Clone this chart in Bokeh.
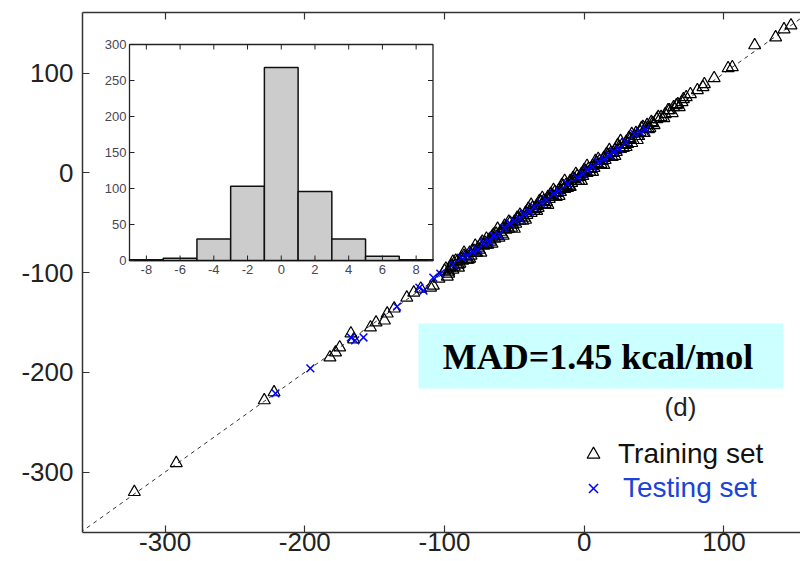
from bokeh.plotting import figure
from bokeh.models import (Range1d, LinearAxis, FixedTicker, Slope, Legend, LegendItem,
                          BoxAnnotation, Label)
from bokeh.core.properties import value
from bokeh.embed import file_html
from bokeh.resources import INLINE

# ---------------- data ----------------
train_x = [-322, -292, -229, -222, -182, -178, -175, -167, -165, -153,
           -149, -143, -141, -136, -127, -122, -117, -110, -108, -104,
           -100, -97,
           -95, -93, -91, -90, -88, -87, -85, -84, -82, -81,
           -79, -78, -76, -75, -74, -72, -71, -70, -68, -67,
           -66, -64, -63, -62, -60, -59, -58, -56, -55, -54,
           -53, -51, -50, -49, -47, -46, -45, -43, -42, -41,
           -39, -38, -37, -35, -34, -33, -31, -30, -29, -27,
           -26, -25, -23, -22, -21, -19, -18, -17, -15, -14,
           -13, -11, -10, -9, -7, -6, -5, -3, -2, -1,
           1, 2, 3, 5, 6, 7, 9, 10, 11, 13,
           14, 15, 17, 18, 19, 21, 22, 23, 25, 26,
           27, 29, 30, 31, 33, 35, 36, 38, 40, 42,
           44, 46,
           49, 52, 55, 58, 61, 64, 67, 70, 73, 76,
           81, 85, 86, 93, 103, 106, 122, 137, 143, 148]
train_y = [-320, -291, -228, -220, -185, -180, -175, -161, -167, -155,
           -150, -148, -141, -136, -125, -120, -116, -115, -113, -106,
           -98, -99,
           -93, -94, -89, -92, -86, -88, -84, -87, -80, -83,
           -78, -80, -75, -77, -71, -73, -70, -72, -67, -69,
           -64, -66, -61, -63, -59, -61, -56, -57, -54, -56,
           -50, -52, -49, -51, -45, -48, -44, -45, -40, -42,
           -38, -40, -35, -36, -33, -35, -29, -32, -28, -29,
           -24, -26, -22, -24, -19, -20, -17, -19, -13, -16,
           -12, -13, -8, -10, -6, -8, -3, -4, -1, -3,
           2, 0, 4, 4, 7, 5, 10, 8, 12, 12,
           15, 13, 18, 16, 20, 20, 23, 21, 26, 24,
           28, 28, 31, 29, 34, 33, 37, 37, 41, 40,
           45, 44,
           50, 54, 56, 59, 63, 66, 69, 71, 76, 79,
           83, 86, 89, 95, 105, 106, 128, 136, 144, 148]

# further training molecules inside the dense band
train2_x = [-99, -97, -96, -94, -92, -89, -86, -83, -80, -77,
            -73, -69, -65, -61, -57, -52, -48, -44, -40, -36,
            -32, -28, -24, -20, -16, -12, -8, -4, 0, 4,
            8, 12, 16, 20, 24, 28, 32, 34, 37, 39,
            41, 43, 45, 47, 48, 50, 53, 57, 60, 63,
            66, 68, 71]
train2_y = [-96, -101, -95, -97, -88, -91, -83, -87, -78, -80,
            -69, -72, -62, -65, -53, -55, -45, -48, -36, -38,
            -28, -31, -21, -24, -12, -15, -5, -8, 3, 1,
            12, 9, 19, 16, 28, 25, 35, 30, 40, 37,
            45, 40, 48, 45, 51, 48, 56, 55, 63, 60,
            68, 66, 74]
train3_x = [-98, -94, -90, -86, -82, -78, -74, -70, -66, -62,
            -58, -54, -50, -46, -42, -38, -34, -30, -26, -22,
            -18, -14, -10, -6, -2, 2, 6, 10, 14, 18,
            22, 26, 30, 34, 38, 42]
train3_y = [-104, -89, -95, -80, -86, -73, -80, -66, -71, -56,
            -63, -49, -56, -42, -47, -32, -38, -25, -32, -17,
            -23, -8, -14, -1, -8, 7, 1, 14, 8, 23,
            17, 32, 26, 39, 33, 46]

test_x = [-221, -196, -167, -164, -158, -134, -118, -115, -108, -103,
          -94, -88, -84, -80, -76, -72, -68, -65, -61, -57,
          -53, -50, -46, -43, -39, -36, -31, -27, -22, -18,
          -12, -5, -1, 2, 6, 10, 14, 18, 21, 25,
          30, 36, 40, 44]
test_y = [-221, -196, -165, -168, -165, -134, -115, -118, -105, -101,
          -92, -85, -83, -79, -77, -70, -69, -63, -62, -55,
          -51, -48, -46, -41, -39, -34, -30, -27, -21, -18,
          -11, -5, -1, 3, 6, 11, 14, 18, 21, 24,
          31, 39, 41, 44]

x_ticks = [-300, -200, -100, 0, 100]
x_tick_labels = ["-300", "-200", "-100", "0", "100"]
y_ticks = [-300, -200, -100, 0, 100]
y_tick_labels = ["-300", "-200", "-100", "0", "100"]

hist_centers = [-8, -6, -4, -2, 0, 2, 4, 6, 8]
hist_counts = [1, 3, 30, 103, 268, 96, 30, 6, 1]
hist_x_ticks = [-8, -6, -4, -2, 0, 2, 4, 6, 8]
hist_x_labels = ["-8", "-6", "-4", "-2", "0", "2", "4", "6", "8"]
hist_y_ticks = [0, 50, 100, 150, 200, 250, 300]
hist_y_labels = ["0", "50", "100", "150", "200", "250", "300"]

mad_text = "MAD=1.45 kcal/mol"
panel_text = "(d)"
legend_labels = ["Training set", "Testing set"]

assert len(train_x) == len(train_y)
assert len(train2_x) == len(train2_y)
assert len(train3_x) == len(train3_y)
assert len(test_x) == len(test_y)

# ---------------- layout ----------------
W, H = 800, 561
BL, BR, BT, BB = 82, 0, 12, 29
FW, FH = W - BL - BR, H - BT - BB

X_RANGE = (-359.1, 154.8)
Y_RANGE = (-360.6, 160.9)

# inset placement (pixels inside the main frame, from top-left)
IL, IR, IT, IB = 47, 350.5, 32, 248
HX = (-9, 9)
HY = (0, 300)
sx = (HX[1] - HX[0]) / (IR - IL)
hx_range = (HX[0] - IL * sx, HX[0] + (FW - IL) * sx)
sy = (HY[1] - HY[0]) / (IB - IT)
hy_range = (HY[0] - (FH - IB) * sy, HY[1] + IT * sy)

FONT = "Liberation Sans"
AX_COL = "#333333"

p = figure(width=W, height=H, output_backend="svg", toolbar_location=None,
           x_range=Range1d(*X_RANGE), y_range=Range1d(*Y_RANGE),
           min_border_left=BL, min_border_right=BR,
           min_border_top=BT, min_border_bottom=BB,
           outline_line_color=None, background_fill_color="white",
           border_fill_color="white")
p.xgrid.visible = False
p.ygrid.visible = False


def style_axis(ax, show_labels, labels=None):
    ax.axis_line_color = AX_COL
    ax.axis_line_width = 1.5
    ax.major_tick_line_color = AX_COL
    ax.major_tick_line_width = 1.2
    ax.major_tick_in = 7
    ax.major_tick_out = 0
    ax.minor_tick_in = 0
    ax.minor_tick_out = 0
    if show_labels:
        ax.major_label_overrides = labels
        ax.major_label_text_font = FONT
        ax.major_label_text_font_size = "26px"
        ax.major_label_text_color = "#222222"
    else:
        ax.major_label_text_font_size = "0px"
        ax.major_label_text_color = None
        ax.major_label_standoff = 0


ya = p.yaxis[0]
ya.ticker = FixedTicker(ticks=y_ticks)
style_axis(ya, True, {t: s for t, s in zip(y_ticks, y_tick_labels)})
ya.major_label_standoff = 9

xa = p.xaxis[0]
xa.ticker = FixedTicker(ticks=x_ticks)
style_axis(xa, True, {t: s for t, s in zip(x_ticks, x_tick_labels)})
xa.major_label_standoff = 0

top = LinearAxis(ticker=FixedTicker(ticks=x_ticks))
style_axis(top, False)
p.add_layout(top, "above")

# diagonal
p.add_layout(Slope(gradient=1, y_intercept=0, line_color="#333333",
                   line_dash="4 4", line_width=1, level="underlay"))

# scatter
TRI = dict(marker="triangle", size=12, fill_color=None, line_color="black", line_width=1.2)
r_train = p.scatter(train_x, train_y, **TRI)
p.scatter(train2_x, train2_y, **TRI)
p.scatter(train3_x, train3_y, **TRI)
r_test = p.scatter(test_x, test_y, marker="x", size=11,
                   line_color="#0000ff", line_width=1.5)

# ---------------- inset histogram ----------------
p.extra_x_ranges = {"hx": Range1d(*hx_range)}
p.extra_y_ranges = {"hy": Range1d(*hy_range)}
INS = dict(x_range_name="hx", y_range_name="hy")

p.quad(left=[HX[0]], right=[HX[1]], bottom=[HY[0]], top=[HY[1]],
       fill_color="white", line_color="#222222", line_width=1.3, **INS)
p.vbar(x=hist_centers, width=2, top=hist_counts, bottom=0,
       fill_color="#cccccc", line_color="#111111", line_width=1.5, **INS)

tl_x = 5 * sx
tl_y = 5 * sy
n_y = len(hist_y_ticks)
n_x = len(hist_x_ticks)
p.segment(x0=[HX[0]] * n_y, x1=[HX[0] + tl_x] * n_y, y0=hist_y_ticks, y1=hist_y_ticks,
          line_color="#222222", line_width=1, **INS)
p.segment(x0=[HX[1]] * n_y, x1=[HX[1] - tl_x] * n_y, y0=hist_y_ticks, y1=hist_y_ticks,
          line_color="#222222", line_width=1, **INS)
p.segment(x0=hist_x_ticks, x1=hist_x_ticks, y0=[HY[0]] * n_x, y1=[HY[0] + tl_y] * n_x,
          line_color="#222222", line_width=1, **INS)
p.segment(x0=hist_x_ticks, x1=hist_x_ticks, y0=[HY[1]] * n_x, y1=[HY[1] - tl_y] * n_x,
          line_color="#222222", line_width=1, **INS)

p.text(x=[HX[0]] * n_y, y=hist_y_ticks, text=hist_y_labels, x_offset=-3,
       text_align="right", text_baseline="middle", text_font=value(FONT),
       text_font_size="13px", text_color="#4a4452", **INS)
p.text(x=hist_x_ticks, y=[HY[0]] * n_x, text=hist_x_labels, y_offset=4,
       text_align="center", text_baseline="top", text_font=value(FONT),
       text_font_size="13px", text_color="#4a4452", **INS)

# ---------------- annotations ----------------
p.add_layout(BoxAnnotation(left=336, right=701, bottom=144, top=209,
                           left_units="screen", right_units="screen",
                           bottom_units="screen", top_units="screen",
                           fill_color="#ccffff", fill_alpha=1.0, line_alpha=0))
p.add_layout(Label(x=515.5, y=176, x_units="screen", y_units="screen", text=mad_text,
                   text_align="center", text_baseline="middle",
                   text_font="Liberation Serif", text_font_style="bold",
                   text_font_size="36px", text_color="black"))
p.add_layout(Label(x=598, y=126, x_units="screen", y_units="screen", text=panel_text,
                   text_align="center", text_baseline="middle",
                   text_font=FONT, text_font_size="26px", text_color="#222222"))

common = dict(background_fill_alpha=0, border_line_alpha=0, padding=0, margin=0,
              spacing=0, glyph_width=32, glyph_height=32, label_height=32,
              label_text_font=FONT, label_text_font_size="28px")
leg1 = Legend(items=[LegendItem(label=legend_labels[0], renderers=[r_train])],
              location=(495, 62), label_standoff=9, label_text_color="#111111", **common)
leg2 = Legend(items=[LegendItem(label=legend_labels[1], renderers=[r_test])],
              location=(495, 28), label_standoff=14, label_text_color="#1a44d8", **common)
p.add_layout(leg1)
p.add_layout(leg2)

open("out.html", "w").write(file_html(p, INLINE))
